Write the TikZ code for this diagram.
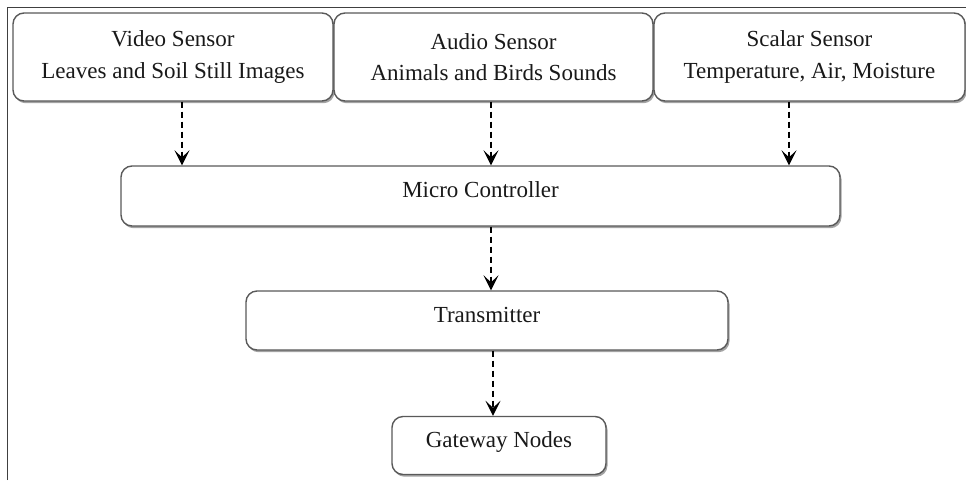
\documentclass[tikz,border=0pt]{standalone}
\usepackage{fontspec}
\setmainfont{Liberation Serif}
\usepackage{tikz}
\usetikzlibrary{arrows.meta}
\usetikzlibrary{shadows}

\begin{document}
\begin{tikzpicture}[x=1pt, y=-1pt,
  box/.style={rectangle, rounded corners=11pt, draw=black!65, line width=1.4pt, fill=white,
    drop shadow={shadow xshift=1.5pt, shadow yshift=-2.2pt, fill=black!45, opacity=.8},
    inner sep=0pt, align=center, text=black!90, font=\fontsize{23}{31.5}\selectfont},
  onebox/.style={box, text height=15.8pt, text depth=12pt},
  flow/.style={line width=1.6pt, dash pattern=on 6pt off 4pt,
    -{Stealth[length=15pt, width=15pt, inset=7pt]}}]
\useasboundingbox (0,0) rectangle (966,480);
\draw[black!75, line width=1.1pt] (7.5,480) -- (7.5,7.5) -- (966,7.5);

\node [box, minimum width=320pt, minimum height=88pt] (video) at (173,57) {Video Sensor\\Leaves and Soil Still Images};
\node [box, minimum width=319pt, minimum height=88pt] (audio) at (493.5,57) {Audio Sensor\\Animals and Birds Sounds};
\node [box, minimum width=311pt, minimum height=88pt] (scalar) at (809.5,57) {Scalar Sensor\\Temperature, Air, Moisture};
\node [onebox, minimum width=719pt, minimum height=60pt] (micro) at (480.5,196) {Micro Controller};
\node [onebox, minimum width=482pt, minimum height=59pt] (trans) at (487,320.5) {Transmitter};
\node [onebox, minimum width=214pt, minimum height=58pt] (gate) at (499,445.5) {Gateway Nodes};

\draw[flow] ([xshift=9pt]video.south) -- ([xshift=9pt]video.south |- micro.north);
\draw[flow] ([xshift=-2.5pt]audio.south) -- ([xshift=-2.5pt]audio.south |- micro.north);
\draw[flow] ([xshift=-20.5pt]scalar.south) -- ([xshift=-20.5pt]scalar.south |- micro.north);
\draw[flow] ([xshift=10.5pt]micro.south) -- ([xshift=10.5pt]micro.south |- trans.north);
\draw[flow] ([xshift=6pt]trans.south) -- ([xshift=6pt]trans.south |- gate.north);
\end{tikzpicture}
\end{document}
